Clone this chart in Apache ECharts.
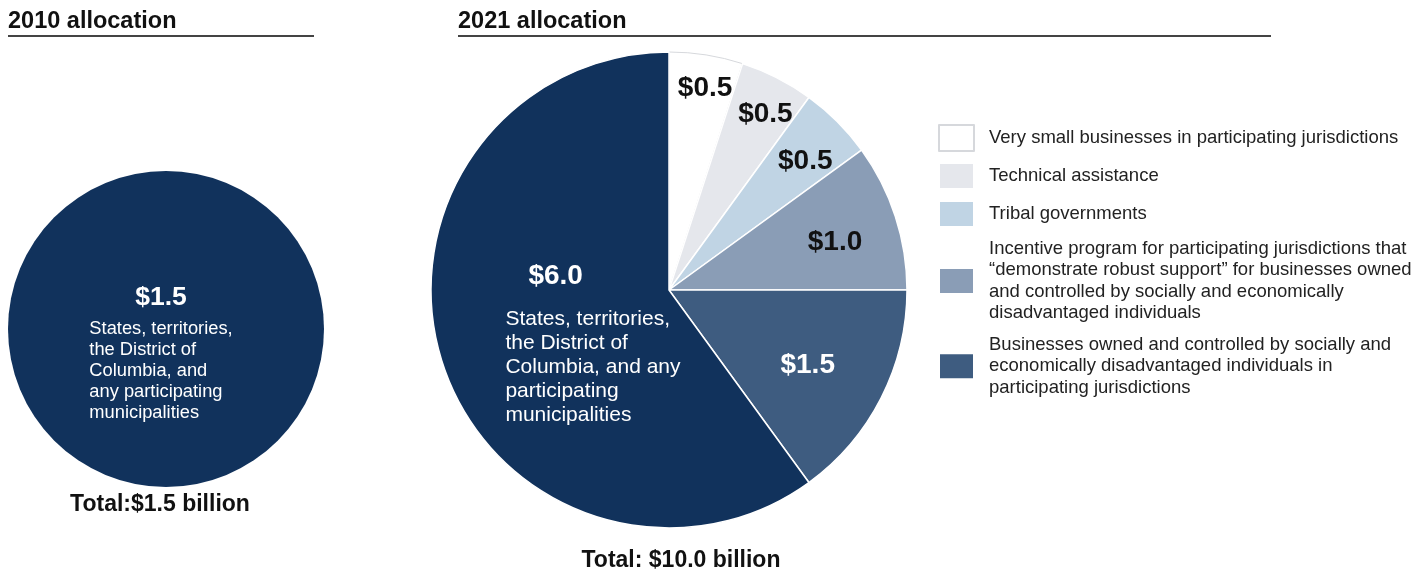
<!DOCTYPE html>
<html><head><meta charset="utf-8">
<script src="https://cdn.jsdelivr.net/npm/echarts@6/dist/echarts.min.js"></script>
<style>html,body{margin:0;padding:0;background:#fff}#c{width:1425px;height:576px}</style>
</head><body><div id="c"></div>
<script>
// ---- data ----
const titles2010 = '2010 allocation';
const titles2021 = '2021 allocation';
const total2010 = 'Total:$1.5 billion';
const total2021 = 'Total: $10.0 billion';
const names2010 = ['States, territories, the District of Columbia, and any participating municipalities'];
const values2010 = [1.5];
const names2021 = [
  'Very small businesses in participating jurisdictions',
  'Technical assistance',
  'Tribal governments',
  'Incentive program for participating jurisdictions that “demonstrate robust support” for businesses owned and controlled by socially and economically disadvantaged individuals',
  'Businesses owned and controlled by socially and economically disadvantaged individuals in participating jurisdictions',
  'States, territories, the District of Columbia, and any participating municipalities'
];
const values2021 = [0.5, 0.5, 0.5, 1.0, 1.5, 6.0];
const legendWrapped = {
  [names2021[0]]: 'Very small businesses in participating jurisdictions',
  [names2021[1]]: 'Technical assistance',
  [names2021[2]]: 'Tribal governments',
  [names2021[3]]: 'Incentive program for participating jurisdictions that\n“demonstrate robust support” for businesses owned\nand controlled by socially and economically\ndisadvantaged individuals',
  [names2021[4]]: 'Businesses owned and controlled by socially and\neconomically disadvantaged individuals in\nparticipating jurisdictions'
};
const descLeft = ['States, territories,', 'the District of', 'Columbia, and', 'any participating', 'municipalities'];
const descRight = ['States, territories,', 'the District of', 'Columbia, and any', 'participating', 'municipalities'];

// ---- styles ----
const FONT = "'Liberation Sans', Arial, Helvetica, sans-serif";
const colors = ['#ffffff', '#e5e7ec', '#c0d4e4', '#8a9db6', '#3e5c80', '#11325c'];
const labelColors = ['#111', '#111', '#111', '#111', '#fff', '#fff'];
const labelOffsets = [[17, -81], [41, -67], [50, -42], [50, -10], [30, 20], [40, 9]];

const fmtVal = v => '$' + v.toFixed(1);

const data2021 = values2021.map((v, i) => {
  const item = {
    name: names2021[i], value: v,
    itemStyle: { color: colors[i], borderColor: i === 0 ? '#d6d8dc' : '#ffffff', borderWidth: i === 0 ? 1 : 1.5 },
    label: { offset: labelOffsets[i], color: labelColors[i] }
  };
  if (i === 5) {
    item.label.formatter = '{big|' + fmtVal(v) + '}\n' + descRight.map(s => '{d|' + s + '}').join('\n');
  }
  return item;
});

const chart = echarts.init(document.getElementById('c'), null, { renderer: 'canvas' });
chart.setOption({
  animation: false,
  textStyle: { fontFamily: FONT },
  title: [
    { text: titles2010, left: 3, top: 5, textStyle: { fontFamily: FONT, fontSize: 23.5, fontWeight: 'bold', color: '#111' } },
    { text: titles2021, left: 453, top: 5, textStyle: { fontFamily: FONT, fontSize: 23.5, fontWeight: 'bold', color: '#111' } }
  ],
  graphic: [
    { type: 'line', shape: { x1: 8, y1: 36, x2: 314, y2: 36 }, style: { stroke: '#444', lineWidth: 2 } },
    { type: 'line', shape: { x1: 458, y1: 36, x2: 1271, y2: 36 }, style: { stroke: '#444', lineWidth: 2 } },
    { type: 'text', x: 160, y: 505, style: { text: total2010, font: 'bold 23px ' + FONT, fill: '#111', textAlign: 'center', textVerticalAlign: 'middle' } },
    { type: 'text', x: 681, y: 561, style: { text: total2021, font: 'bold 23px ' + FONT, fill: '#111', textAlign: 'center', textVerticalAlign: 'middle' } }
  ],
  legend: {
    orient: 'vertical', left: 933, top: 119,
    icon: 'rect', itemWidth: 35, itemHeight: 26, itemGap: 10,
    data: names2021.slice(0, 5),
    formatter: n => legendWrapped[n],
    selectedMode: false,
    textStyle: { fontFamily: FONT, fontSize: 18.5, lineHeight: 21.5, color: '#222', padding: [0, 0, 0, 10] }
  },
  series: [
    {
      type: 'pie', center: [166, 329], radius: 158, silent: true,
      data: values2010.map((v, i) => ({ name: names2010[i], value: v, itemStyle: { color: colors[5] } })),
      label: {
        show: true, position: 'center', offset: [-5, 21],
        formatter: p => '{big|' + fmtVal(p.value) + '}\n' + descLeft.map(s => '{d|' + s + '}').join('\n'),
        rich: {
          big: { fontFamily: FONT, fontSize: 26.5, fontWeight: 'bold', color: '#fff', lineHeight: 42, align: 'center' },
          d: { fontFamily: FONT, fontSize: 18.3, fontWeight: 'normal', color: '#fff', lineHeight: 21, align: 'left' }
        }
      },
      labelLine: { show: false }
    },
    {
      type: 'pie', center: [669, 290], radius: 238, startAngle: 90, clockwise: true, silent: true,
      avoidLabelOverlap: false,
      data: data2021,
      label: {
        show: true, position: 'inside',
        formatter: p => fmtVal(p.value),
        fontFamily: FONT, fontSize: 28, fontWeight: 'bold',
        rich: {
          big: { fontFamily: FONT, fontSize: 28, fontWeight: 'bold', color: '#fff', lineHeight: 62, align: 'left', padding: [0, 0, 0, 23] },
          d: { fontFamily: FONT, fontSize: 21, fontWeight: 'normal', color: '#fff', lineHeight: 24, align: 'left' }
        }
      },
      labelLine: { show: false }
    }
  ]
});
</script></body></html>
